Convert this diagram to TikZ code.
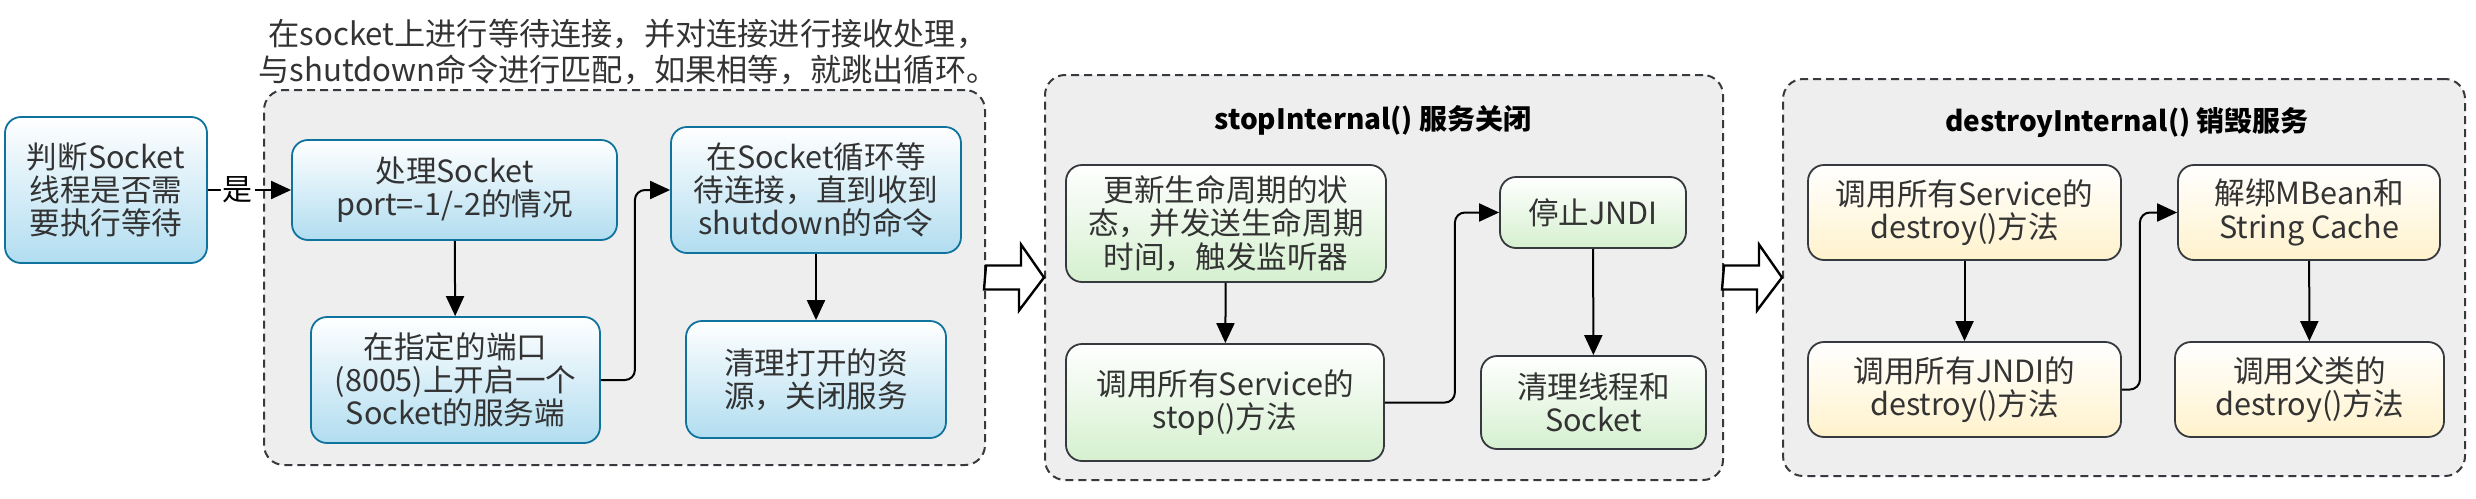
\documentclass[tikz,border=0pt]{standalone}
\usepackage{fontspec}
\setmainfont{Noto Sans CJK SC}
\usetikzlibrary{arrows.meta}
\usetikzlibrary{calc}
\usetikzlibrary{positioning}
\definecolor{textgray}{HTML}{333333}
\definecolor{blueline}{HTML}{10739E}
\definecolor{bluefill}{HTML}{B1DDF0}
\definecolor{greenfill}{HTML}{D5F0CF}
\definecolor{yellowfill}{HTML}{FFF2CC}
\definecolor{boxline}{HTML}{36393D}
\definecolor{groupfill}{HTML}{EEEEEE}
\tikzset{Step/.style={rounded corners=8pt, line width=0.9pt, align=center, text=textgray, inner sep=0pt,
                      font=\fontsize{15.3pt}{16.6pt}\selectfont},
         BlueStep/.style={Step, draw=blueline, top color=white, bottom color=bluefill},
         GreenStep/.style={Step, draw=boxline, top color=white, bottom color=greenfill},
         YellowStep/.style={Step, draw=boxline, top color=white, bottom color=yellowfill},
         Group/.style={draw=boxline, fill=groupfill, line width=1pt, dash pattern=on 4pt off 2.5pt, rounded corners=10pt},
         Title/.style={text=black, font=\fontsize{14pt}{16pt}\selectfont\bfseries},
         Flow/.style={draw, line width=1pt, rounded corners=5pt, -{Triangle[length=10pt,width=9pt]}},
         Hollow/.style={draw=black, fill=white, line width=1.2pt, line join=miter}}

\begin{document}
\begin{tikzpicture}[x=0.5pt, y=-0.5pt]
  \useasboundingbox (0,0) rectangle (2476,498);
  % groups
  \node[Group, minimum width=360.5pt, minimum height=187.5pt] (grpA) at (624.5,277.5) {};
  \node[Group, minimum width=339pt, minimum height=202.5pt] (grpB) at (1384,277.5) {};
  \node[Group, minimum width=341pt, minimum height=198.5pt] (grpC) at (2124,277.5) {};
  \node[align=center, text=textgray, font=\fontsize{15.6pt}{18pt}\selectfont] (note) at (628,52)
    {在socket上进行等待连接，并对连接进行接收处理，\\与shutdown命令进行匹配，如果相等，就跳出循环。};
  \node[Title] (titleB) at (1373,120) {stopInternal() 服务关闭};
  \node[Title] (titleC) at (2127,123) {destroyInternal() 销毁服务};
  % socket wait
  \node[BlueStep, minimum width=101pt, minimum height=73pt] (judge) at (106,190) {判断Socket\\线程是否需\\要执行等待};
  \node[BlueStep, minimum width=162.5pt, minimum height=50pt] (portA) at (454.5,190) {处理Socket\\port=-1/-2的情况};
  \node[BlueStep, minimum width=144.5pt, minimum height=63pt] (openB) at (455.5,380) {在指定的端口\\(8005)上开启一个\\Socket的服务端};
  \node[BlueStep, minimum width=145pt, minimum height=63pt] (waitC) at (816,190) {在Socket循环等\\待连接，直到收到\\shutdown的命令};
  \node[BlueStep, minimum width=130pt, minimum height=58.5pt] (cleanD) at (816,379.5) {清理打开的资\\源，关闭服务};
  % stop
  \node[GreenStep, minimum width=160pt, minimum height=58.5pt] (lifeE) at (1226,223.5) {更新生命周期的状\\态，并发送生命周期\\时间，触发监听器};
  \node[GreenStep, minimum width=159pt, minimum height=58.5pt] (stopF) at (1225,402.5) {调用所有Service的\\stop()方法};
  \node[GreenStep, minimum width=93pt, minimum height=35.5pt] (jndiG) at (1593,212.5) {停止JNDI};
  \node[GreenStep, minimum width=112.5pt, minimum height=46.5pt] (threadH) at (1593.5,402.5) {清理线程和\\Socket};
  % destroy
  \node[YellowStep, minimum width=156.5pt, minimum height=47.5pt] (svcI) at (1964.5,212.5) {调用所有Service的\\destroy()方法};
  \node[YellowStep, minimum width=131pt, minimum height=47.5pt] (mbeanJ) at (2309,212.5) {解绑MBean和\\String Cache};
  \node[YellowStep, minimum width=156.5pt, minimum height=47.5pt] (jndiK) at (1964.5,389.5) {调用所有JNDI的\\destroy()方法};
  \node[YellowStep, minimum width=134.5pt, minimum height=47.5pt] (parentL) at (2309.5,389.5) {调用父类的\\destroy()方法};
  % connectors
  \path[Flow]
    (judge) edge node[pos=0.36, fill=white, inner sep=1pt, text=black, font=\fontsize{15pt}{16pt}\selectfont] {是} (portA)
    (portA) edge (openB)
    (waitC) edge (cleanD)
    (lifeE) edge (stopF)
    (jndiG) edge (threadH)
    (svcI) edge (jndiK)
    (mbeanJ) edge (parentL);
  \draw[Flow] (openB.east) -- ++(34,0) |- (waitC.west);
  \draw[Flow] (stopF.east) -- ++(70,0) |- (jndiG.west);
  \draw[Flow] (jndiK.east) -- ++(18,0) |- (mbeanJ.west);
  % hollow arrows between groups
  \draw[Hollow] ($(grpA.east)+(0,-12)$) -- ++(35,0) -- ++(0,-21) -- (grpB.west) -- ++(-25,33) -- ++(0,-21) -- ++(-35,0) -- cycle;
  \draw[Hollow] ($(grpB.east)+(0,-12)$) -- ++(35,0) -- ++(0,-21) -- (grpC.west) -- ++(-25,33) -- ++(0,-21) -- ++(-35,0) -- cycle;
\end{tikzpicture}
\end{document}
